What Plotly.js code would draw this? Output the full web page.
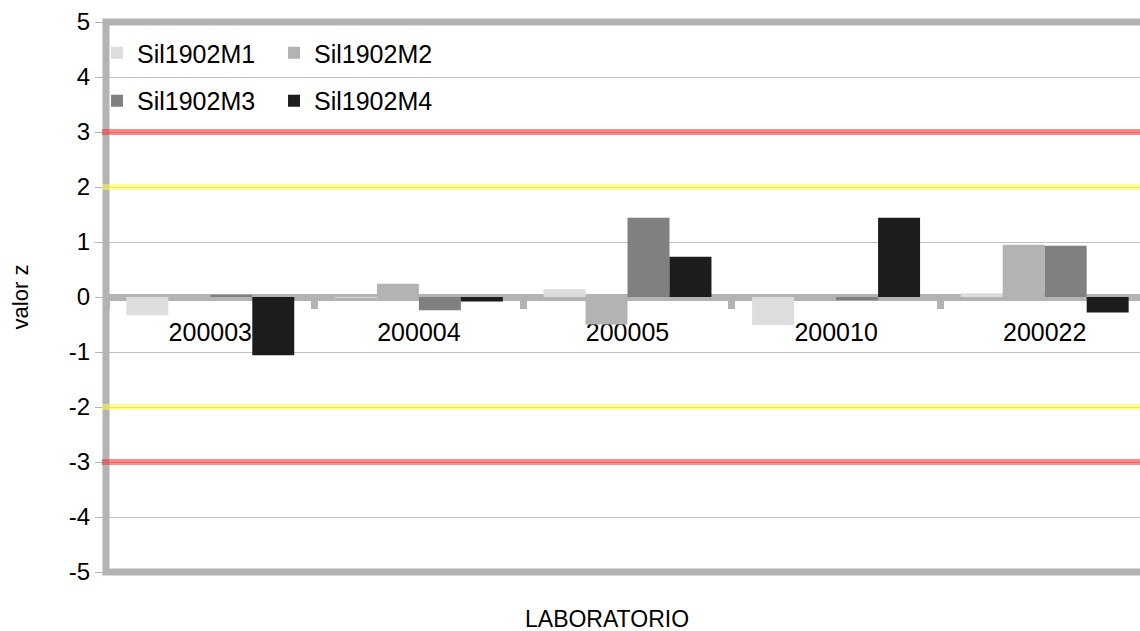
<!DOCTYPE html>
<html>
<head>
<meta charset="utf-8">
<script src="https://cdn.plot.ly/plotly-3.0.1.min.js"></script>
<style>
html, body { margin: 0; padding: 0; overflow: hidden; background: #fff; }
#chart { width: 1150px; height: 631px; }
</style>
</head>
<body>
<div id="chart"></div>
<script>
const categories = ['200003', '200004', '200005', '200010', '200022'];
const seriesNames = ['Sil1902M1', 'Sil1902M2', 'Sil1902M3', 'Sil1902M4'];
const m1 = [-0.33, -0.02, 0.14, -0.51, 0.07];
const m2 = [0.0, 0.24, -0.50, 0.0, 0.95];
const m3 = [0.04, -0.24, 1.44, -0.06, 0.93];
const m4 = [-1.06, -0.08, 0.73, 1.44, -0.28];
const yTicks = [-5, -4, -3, -2, -1, 0, 1, 2, 3, 4, 5];
const warnLimits = [2, -2];
const actionLimits = [3, -3];

const colors = ['#dddddd', '#b3b3b3', '#808080', '#1c1c1c'];
const values = [m1, m2, m3, m4];
const legendIds = ['legend', 'legend', 'legend2', 'legend2'];

const traces = values.map((v, i) => ({
  type: 'bar',
  name: seriesNames[i],
  x: categories,
  y: v,
  marker: { color: colors[i], line: { width: 0 } },
  legend: legendIds[i],
  hoverinfo: 'x+y+name'
}));

const shapes = [];
shapes.push({
  type: 'rect', xref: 'paper', yref: 'paper', x0: 0, x1: 1, y0: 0, y1: 1,
  line: { color: '#b3b3b3', width: 7 }, fillcolor: 'rgba(0,0,0,0)', layer: 'above'
});
warnLimits.forEach(v => shapes.push({
  type: 'line', xref: 'paper', yref: 'y', x0: -0.004, x1: 1, y0: v, y1: v,
  line: { color: 'rgba(255,255,60,0.55)', width: 6 }, layer: 'above'
}));
actionLimits.forEach(v => shapes.push({
  type: 'line', xref: 'paper', yref: 'y', x0: -0.004, x1: 1, y0: v, y1: v,
  line: { color: 'rgba(255,40,40,0.55)', width: 6 }, layer: 'above'
}));

const FONT = 'Liberation Sans, Arial, sans-serif';

const layout = {
  width: 1150,
  height: 631,
  margin: { l: 106, r: 1, t: 22, b: 59 },
  paper_bgcolor: '#ffffff',
  plot_bgcolor: '#ffffff',
  font: { family: FONT, size: 25, color: '#000000' },
  barmode: 'group',
  bargap: 0.195,
  bargroupgap: 0,
  xaxis: {
    type: 'category',
    anchor: 'free',
    position: 0.5,
    showline: true,
    linecolor: '#b3b3b3',
    linewidth: 7,
    layer: 'below traces',
    ticks: 'outside',
    tickson: 'boundaries',
    ticklen: 8,
    tickwidth: 7,
    tickcolor: '#b3b3b3',
    ticklabelstandoff: 10,
    showgrid: false,
    zeroline: false,
    tickfont: { family: FONT, size: 25, color: '#000000' }
  },
  yaxis: {
    range: [-5, 5],
    tickvals: yTicks,
    ticktext: yTicks.map(String),
    ticks: 'outside',
    ticklen: 10,
    tickwidth: 1,
    tickcolor: '#b3b3b3',
    showgrid: true,
    gridcolor: '#c0c0c0',
    gridwidth: 1,
    zeroline: false,
    showline: false,
    tickfont: { family: FONT, size: 24, color: '#000000' },
    title: { text: 'valor z', font: { family: FONT, size: 22, color: '#000000' }, standoff: 34 }
  },
  legend: {
    orientation: 'h',
    x: -0.0086, xanchor: 'left',
    y: 0.9436, yanchor: 'middle',
    bgcolor: 'rgba(0,0,0,0)',
    entrywidth: 132,
    font: { family: FONT, size: 25, color: '#000000' },
    traceorder: 'normal'
  },
  legend2: {
    orientation: 'h',
    x: -0.0086, xanchor: 'left',
    y: 0.8564, yanchor: 'middle',
    bgcolor: 'rgba(0,0,0,0)',
    entrywidth: 132,
    font: { family: FONT, size: 25, color: '#000000' },
    traceorder: 'normal'
  },
  shapes: shapes,
  annotations: [{
    text: 'LABORATORIO', xref: 'paper', yref: 'paper',
    x: 0.480, y: -0.086, xanchor: 'center', yanchor: 'middle',
    showarrow: false, font: { family: FONT, size: 23, color: '#000000' }
  }]
};

Plotly.newPlot('chart', traces, layout, { displayModeBar: false, staticPlot: true });
</script>
</body>
</html>
